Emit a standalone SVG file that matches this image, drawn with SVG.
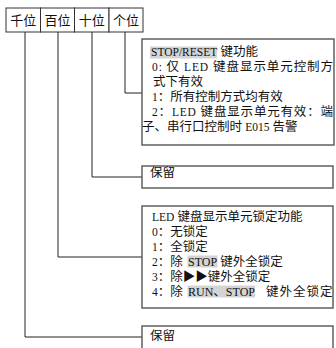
<svg xmlns="http://www.w3.org/2000/svg" width="336" height="348" viewBox="0 0 336 348">
<style>
text{font-family:"Liberation Serif","Noto Sans CJK SC",serif;font-size:12.5px;fill:#111}
.l{font-size:11.5px}
.m{font-size:12px}
.hdr{font-size:13px;text-anchor:middle}
.box{fill:#fff;stroke:#555;stroke-width:1.4}
.cell{fill:#fff;stroke:#333;stroke-width:1}
.wire{fill:none;stroke:#222;stroke-width:1}
.hl{fill:#d4d4d4}
</style>
<rect width="336" height="348" fill="#fff"/>
<g id="header">
<rect class="cell" x="6" y="8" width="34.5" height="24"/>
<rect class="cell" x="40.5" y="8" width="34" height="24"/>
<rect class="cell" x="74.5" y="8" width="34.5" height="24"/>
<rect class="cell" x="109" y="8" width="34" height="24"/>
<text class="hdr" x="23.2" y="24.5">千位</text>
<text class="hdr" x="57.5" y="24.5">百位</text>
<text class="hdr" x="91.8" y="24.5">十位</text>
<text class="hdr" x="126" y="24.5">个位</text>
</g>
<g id="connectors">
<path class="wire" d="M125 32V93H142"/>
<path class="wire" d="M92 32V177H142"/>
<path class="wire" d="M58 32V257H142"/>
<path class="wire" d="M25 32V337H142"/>
</g>
<g id="box1">
<rect class="box" x="142" y="39" width="192" height="106"/>
<rect class="hl" x="150" y="46.5" width="67" height="12"/>
<text x="151" y="56"><tspan class="l">STOP/RESET</tspan> 键功能</text>
<text x="152" y="71" textLength="181" lengthAdjust="spacing"><tspan class="l">0: </tspan>仅 <tspan class="l">LED</tspan> 键盘显示单元控制方</text>
<text x="153" y="86">式下有效</text>
<text x="152" y="101"><tspan class="l">1</tspan>：所有控制方式均有效</text>
<text x="152" y="116" textLength="181" lengthAdjust="spacing"><tspan class="l">2</tspan>：<tspan class="l">LED</tspan> 键盘显示单元有效：端</text>
<text x="142" y="131">子、串行口控制时 <tspan class="l">E015</tspan> 告警</text>
</g>
<g id="box2">
<rect class="box" x="142" y="166" width="191" height="22"/>
<text x="150" y="176.5">保留</text>
</g>
<g id="box3">
<rect class="box" x="142" y="206" width="191" height="102"/>
<rect class="hl" x="187.5" y="255.5" width="30" height="12"/>
<rect class="hl" x="187.5" y="285.5" width="67.5" height="12"/>
<text x="152" y="220.5"><tspan class="l">LED</tspan> 键盘显示单元锁定功能</text>
<text x="152" y="235.5"><tspan class="l">0</tspan>：无锁定</text>
<text x="152" y="250.5"><tspan class="l">1</tspan>：全锁定</text>
<text x="152" y="265.5"><tspan class="l">2</tspan>：除 <tspan class="m" x="188">STOP</tspan> 键外全锁定</text>
<text x="152" y="280.5"><tspan class="l">3</tspan>：除▶▶键外全锁定</text>
<text x="152" y="295.5"><tspan class="l">4</tspan>：除 <tspan class="m" x="188">RUN</tspan>、<tspan class="m">STOP</tspan> <tspan x="266" letter-spacing="1">键外全锁定</tspan></text>
</g>
<g id="box4">
<rect class="box" x="142" y="326" width="191" height="30"/>
<text x="150" y="340">保留</text>
</g>
</svg>
